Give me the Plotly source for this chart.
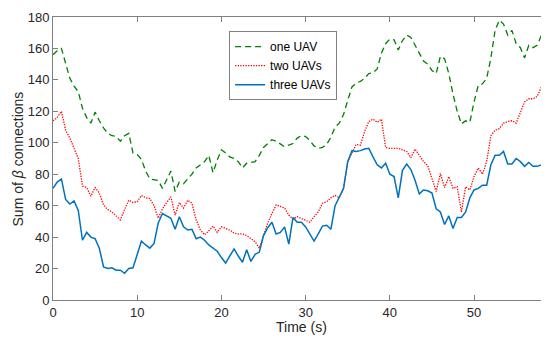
import plotly.graph_objects as go

time_s = [i * 0.5 for i in range(119)]

one_uav = [156, 158.5, 160, 150, 141, 136, 132.5, 122, 116, 112.5, 119.5, 114, 109.5, 106, 104.5, 104,
           101, 104.5, 106, 93.5, 92.5, 89.5, 82, 77, 76.5, 76, 71, 77, 82, 69, 75, 74, 77, 80, 84, 86,
           88, 92, 81, 89, 95.5, 93.5, 91, 90, 88, 84, 87, 87.5, 88, 92, 97, 99.5, 102, 101, 99, 97.5,
           98.5, 99.5, 103, 104.5, 104, 101.5, 98, 96.5, 97, 99, 103.5, 110, 112.5, 118, 127, 135.5,
           138, 139, 141, 144, 144.5, 147, 157, 163, 166, 165.5, 159, 165, 168.5, 167, 162, 157, 152,
           150, 146, 144, 155, 153.5, 144, 131, 120, 112, 114, 113, 126, 136.5, 137.5, 141, 154, 171.5,
           178, 175.5, 168.5, 171.5, 163, 160.5, 154, 162, 160.5, 162, 168.5, 166, 167]

two_uavs = [114, 116, 120, 108, 103, 97, 90, 72.5, 71.5, 66, 71.5, 68, 60.5, 57.5, 56, 53.5, 51, 57.5,
            63.5, 62, 62.5, 66.5, 65, 64.5, 60, 52, 58, 62, 65.5, 54, 62, 58.5, 63.5, 61.5, 51, 44.5,
            41.5, 44, 47, 43, 46.5, 45.5, 44.5, 42.5, 42, 42, 41, 39, 37, 33, 41, 49, 55, 60.5, 59.5,
            58.5, 54, 51.5, 53, 52, 51, 49.5, 53, 56, 61.5, 62.5, 65, 66.5, 65, 71, 88, 93, 99, 98.5,
            107, 113.5, 115, 113, 115, 97, 96.5, 96.5, 96.5, 95.5, 94.5, 90.5, 96, 92, 88, 85.5, 77.5,
            69, 80.5, 71.5, 78.5, 71, 72, 56, 72, 70, 78.5, 84, 80, 88, 104.5, 108, 109, 112.5, 113.5,
            114, 112.5, 119, 126, 128, 128, 129.5, 135.5, 136, 132.5]

three_uavs = [71, 75, 77, 64, 61, 63, 57, 38, 43, 40, 39, 33, 21, 20, 20.5, 19, 19, 17, 20, 20.5, 29,
              37.5, 35, 33, 36, 49, 55, 53.5, 52, 45, 53, 46.6, 44.5, 45, 39, 40, 38, 35, 33, 31, 27,
              23.5, 28, 32.5, 28, 24, 32, 24.5, 29, 30.5, 41, 46, 49.5, 42, 43, 46.5, 35.5, 52.5, 49.5,
              49.5, 46.5, 42, 37.5, 42, 47, 47.5, 45, 60, 65, 71, 88, 95, 94.5, 95, 96, 96.5, 91, 86,
              84, 87, 80, 78.5, 65, 82.5, 86.5, 83, 76, 67.5, 70, 69.5, 68, 58, 56, 48, 53.5, 45.5, 52.5,
              52.5, 56, 65, 70, 71, 73, 73, 86, 92, 92, 94.5, 86.5, 86.5, 90, 88, 85, 87.5, 85, 85, 86,
              82, 83]

x_ticks = [0, 10, 20, 30, 40, 50]
y_ticks = [0, 20, 40, 60, 80, 100, 120, 140, 160, 180]

fig = go.Figure()
fig.add_trace(go.Scatter(x=time_s, y=one_uav, mode="lines", name="one UAV",
                         line=dict(color="#008000", width=1.3, dash="6px,4px")))
fig.add_trace(go.Scatter(x=time_s, y=two_uavs, mode="lines", name="two UAVs",
                         line=dict(color="#ff0000", width=1.3, dash="1.3px,1.3px")))
fig.add_trace(go.Scatter(x=time_s, y=three_uavs, mode="lines", name="three UAVs",
                         line=dict(color="#0072bd", width=1.5)))

axis_common = dict(showline=True, linecolor="#808080", linewidth=1, mirror="ticks",
                   ticks="inside", ticklen=5, tickcolor="#808080", showgrid=False, zeroline=False,
                   automargin=False, tickfont=dict(size=13, color="#262626"))

# page body has an 8px default margin; size the figure so the plot area lands where the reference has it
fig.update_layout(
    width=541, height=336,
    margin=dict(l=45, r=0, t=9, b=44),
    paper_bgcolor="white", plot_bgcolor="white",
    font=dict(family="Liberation Sans, Arial, sans-serif", size=13, color="#262626"),
    xaxis=dict(range=[0, 58.9], tickvals=x_ticks, **axis_common),
    yaxis=dict(range=[0, 180], tickvals=y_ticks, **axis_common),
    legend=dict(x=0.355, y=0.95, xanchor="left", yanchor="top", bgcolor="white",
                bordercolor="#808080", borderwidth=1, font=dict(size=12, color="#000000"),
                tracegroupgap=0, itemwidth=30),
    showlegend=True,
    annotations=[
        dict(text="Time (s)", xref="paper", yref="paper", x=0.5, y=-0.095, xanchor="center",
             yanchor="middle", showarrow=False, font=dict(size=14, color="#262626")),
        dict(text="Sum of <i>β</i> connections", xref="paper", yref="paper", x=-0.0706, y=0.5,
             xanchor="center", yanchor="middle", textangle=-90, showarrow=False,
             font=dict(size=14, color="#262626")),
    ],
)

fig.write_html("out.html")
